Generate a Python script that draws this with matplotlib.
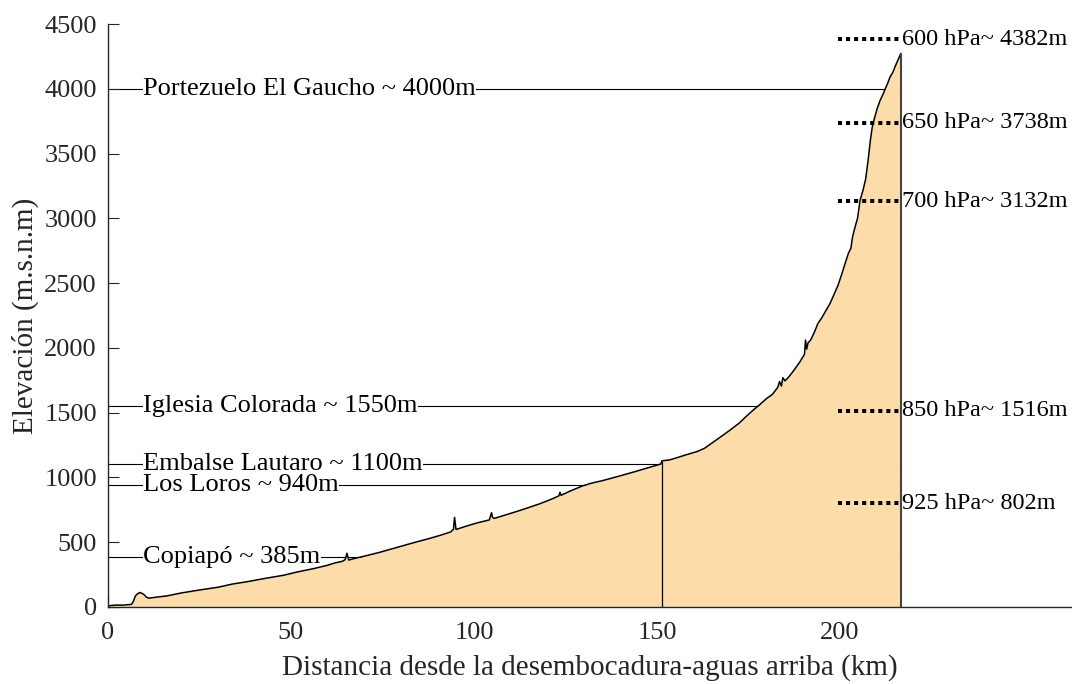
import numpy as np
import matplotlib.pyplot as plt

plt.rcParams['font.family'] = ['Liberation Serif', 'DejaVu Serif']

# elevation profile along the river (km from the mouth, m a.s.l.)
dist_km = [0, 1.0, 2.5, 4.0, 5.5, 6.4, 6.9, 7.5, 8.0, 8.7, 9.3, 9.9, 10.5, 11.3,
           13, 16, 20, 25, 30, 34, 38, 43, 48, 52, 56, 60, 62, 64, 64.8, 65.3,
           65.8, 67, 70, 74, 79, 84, 88, 91, 93.7, 94.4, 94.7, 95.1, 98, 101,
           104.2, 104.8, 105.1, 105.6, 108, 112, 115, 118, 121, 122.3, 123.2,
           123.5, 123.8, 125.9, 129.6, 132, 135.1, 139, 143.3, 147, 151.0,
           151.4, 153.3, 156, 158, 161, 163, 165, 167, 170, 172.5, 174.5,
           176.5, 178, 180, 181.5, 183, 183.5, 184, 184.4, 185, 186, 187.5,
           189, 190.3, 190.6, 190.9, 191.3, 192, 193, 194, 195, 196, 197.3,
           198.5, 199.5, 200.5, 201.5, 202.3, 203, 203.4, 204, 204.8, 205.5,
           206.3, 207, 207.7, 208.3, 208.8, 209.3, 209.7, 210.2, 211, 211.8,
           212.3, 213, 213.7, 214.5, 215.2, 216.6]
elev_m = [8, 12, 15, 14, 18, 20, 40, 85, 100, 112, 105, 95, 75, 68,
          75, 85, 108, 131, 152, 177, 195, 221, 245, 272, 295, 322, 340, 352, 365, 415,
          362, 372, 392, 420, 460, 500, 530, 555, 580, 600, 692, 598, 625, 650,
          672, 728, 690, 684, 705, 740, 768, 797, 830, 846, 858,
          885, 862, 890, 934, 955, 975, 1005, 1039, 1070, 1103,
          1129, 1134, 1157, 1175, 1200, 1225, 1265, 1305, 1366, 1420, 1474,
          1525, 1560, 1610, 1640, 1695, 1740, 1705, 1770, 1745, 1775, 1830,
          1890, 1950, 2060, 1990, 2040, 2060, 2120, 2190, 2230, 2280, 2343,
          2420, 2485, 2570, 2660, 2729, 2770, 2850, 2920, 3000, 3140,
          3217, 3300, 3449, 3600, 3700, 3760, 3800, 3850, 3912, 3960,
          3995, 4040, 4092, 4130, 4180, 4270]

# reference places along the valley
place_names = ['Portezuelo El Gaucho ~ 4000m', 'Iglesia Colorada ~ 1550m',
               'Embalse Lautaro ~ 1100m', 'Los Loros ~ 940m', 'Copiapó ~ 385m']
place_elev = [4000, 1550, 1100, 940, 385]

# pressure levels and their mean heights
p_levels = ['600 hPa~ 4382m', '650 hPa~ 3738m', '700 hPa~ 3132m',
            '850 hPa~ 1516m', '925 hPa~ 802m']
p_heights = [4382, 3738, 3132, 1516, 802]

dam_km = 151.3
p_start_km = 199.5

x = np.array(dist_km)
z = np.array(elev_m)
x_end = x[-1]

fig = plt.figure(figsize=(10.72, 6.84), dpi=100)
ax = fig.add_axes([0.1007, 0.1126, 0.8993, 0.8523])

# horizontal guide lines, the terrain covers them past the crossing
for name, h in zip(place_names, place_elev):
    ax.plot([0, x_end], [h, h], color='black', lw=0.8, zorder=1)
    ax.text(9.7, h, name, fontsize=19, va='center', ha='left', zorder=3,
            bbox=dict(facecolor='white', edgecolor='none', pad=0))

ax.fill_between(x, z, 0, color='#fcddaa', lw=0, zorder=2)
ax.plot(x, z, color='black', lw=1.1, zorder=4)
ax.plot([x_end, x_end], [0, z[-1]], color='#444444', lw=1.5, zorder=4)

# dam location
ax.plot([dam_km, dam_km], [0, np.interp(dam_km, x, z)], color='black',
        lw=0.9, zorder=4)

for lab, h in zip(p_levels, p_heights):
    ax.plot([p_start_km, x_end], [h, h], color='black', lw=2.9,
            linestyle=(0, (1, 1)), zorder=5)
    ax.text(x_end + 0.4, h, lab, fontsize=17.5, va='center', ha='left',
            zorder=5, clip_on=False)

ax.set_xlim(0, 263.4)
ax.set_ylim(0, 4500)
ax.set_xticks([0, 50, 100, 150, 200])
ax.set_yticks(np.arange(0, 4501, 500))
ax.tick_params(direction='in', length=8, labelsize=19, colors='#262626',
               pad=8)
ax.tick_params(axis='x', pad=11)
for side in ['top', 'right']:
    ax.spines[side].set_visible(False)
for side in ['left', 'bottom']:
    ax.spines[side].set_color('#262626')
    ax.spines[side].set_linewidth(1.0)
    ax.spines[side].set_zorder(6)

ax.set_xlabel('Distancia desde la desembocadura-aguas arriba (km)',
              fontsize=21, color='#262626', labelpad=7)
ax.set_ylabel('Elevación (m.s.n.m)', fontsize=21, color='#262626',
              labelpad=4)

fig.savefig('out.png', dpi=100)
